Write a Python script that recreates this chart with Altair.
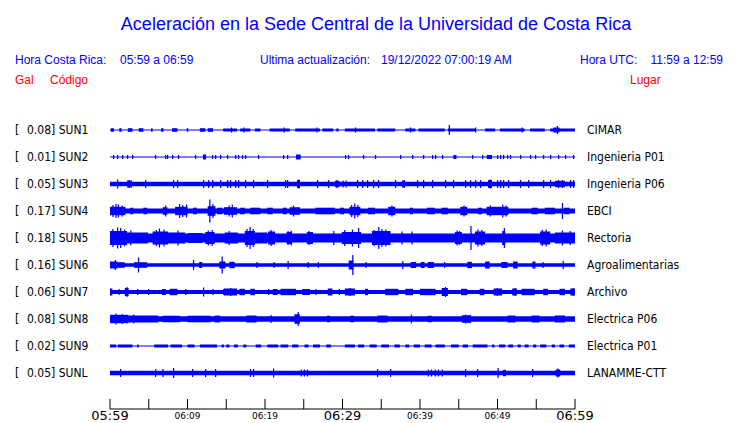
import altair as alt
import pandas as pd

# ---------------- data ----------------
CODES = ["SUN1", "SUN2", "SUN3", "SUN4", "SUN5", "SUN6", "SUN7", "SUN8", "SUN9", "SUNL"]
GAL = ["0.08", "0.01", "0.05", "0.17", "0.18", "0.16", "0.06", "0.08", "0.02", "0.05"]
PLACES = ["CIMAR", "Ingenieria P01", "Ingenieria P06", "EBCI", "Rectoria",
          "Agroalimentarias", "Archivo", "Electrica P06", "Electrica P01", "LANAMME-CTT"]
# half thickness of the quiet trace
BASE = [0.6, 0.6, 2.3, 2.4, 4.5, 1.8, 2.0, 2.8, 0.6, 2.3]

# bursts: (start minute, end minute, half amplitude)
B_SUN1 = [(0.1, 0.5, 1.8), (1.2, 1.5, 1.8), (2.3, 2.9, 1.8), (3.7, 4.3, 1.8), (5.3, 5.5, 1.8),
          (6.6, 6.9, 1.8), (8.0, 8.7, 1.8), (9.9, 10.1, 1.8), (11.6, 12.3, 1.8), (12.6, 13.3, 1.8),
          (14.6, 16.4, 1.5), (16.8, 18.1, 1.5), (18.7, 19.4, 1.5), (20.6, 23.2, 1.5), (23.9, 27.1, 1.5),
          (27.4, 28.8, 1.5), (29.2, 29.5, 1.5), (30.3, 34.2, 1.5), (34.5, 36.8, 1.5), (38.1, 39.4, 1.5),
          (39.8, 43.2, 1.5), (43.6, 47.1, 1.5), (48.4, 49.7, 1.5), (50.3, 53.5, 1.5), (54.2, 56.1, 1.5),
          (56.8, 60.0, 1.5), (57.2, 58.0, 2.5)]
B_SUN2 = [(12.0, 12.4, 2.5), (24.0, 24.6, 2.5), (44.3, 44.7, 2.0), (48.6, 49.3, 2.0)]
B_SUN3 = [(2.19, 2.84, 3.5), (24.13, 24.52, 4.0), (29.03, 29.6, 3.2), (37.68, 38.06, 3.5),
          (48.77, 49.29, 4.0), (57.42, 58.71, 3.2)]
B_SUN4 = [(0.0, 2.0, 4.2), (2.6, 3.0, 3.3), (4.3, 4.8, 3.3), (6.8, 7.4, 3.8), (8.4, 10.0, 4.2),
          (10.7, 11.2, 3.3), (12.6, 13.6, 4.8), (13.8, 14.5, 3.3), (14.7, 16.4, 3.8), (16.8, 17.4, 3.3),
          (18.1, 19.4, 3.3), (20.3, 21.0, 3.3), (22.3, 22.8, 3.3), (23.2, 24.5, 3.8), (26.5, 29.0, 3.3),
          (29.7, 30.2, 3.3), (30.9, 32.3, 4.2), (33.3, 34.2, 3.3), (35.9, 36.8, 4.2), (38.7, 39.1, 3.3),
          (40.9, 41.9, 3.3), (42.8, 43.6, 3.3), (45.2, 46.1, 4.2), (47.5, 48.0, 3.3), (48.6, 51.4, 4.2),
          (54.4, 55.2, 3.3), (56.1, 57.4, 3.3), (58.6, 59.3, 3.3)]
B_SUN5 = [(0.0, 2.2, 7.0), (2.2, 4.9, 5.5), (5.5, 7.5, 6.5), (7.5, 9.7, 5.5), (10.1, 11.9, 5.0),
          (12.3, 13.5, 6.0), (14.8, 16.5, 5.5), (17.4, 18.7, 7.0), (18.7, 20.3, 5.5), (20.4, 21.3, 6.5),
          (22.8, 23.5, 6.0), (25.4, 26.2, 6.0), (29.9, 32.4, 6.0), (33.8, 36.2, 7.0), (44.5, 45.4, 6.0),
          (47.1, 48.4, 6.5), (50.6, 51.0, 7.0), (55.5, 56.8, 6.5), (57.4, 60.0, 5.5)]
B_SUN6 = [(0.0, 1.0, 3.5), (1.0, 1.9, 2.8), (3.1, 4.8, 2.8), (11.5, 11.9, 3.0), (14.1, 14.9, 3.5),
          (15.4, 16.1, 3.2), (30.8, 31.4, 4.5), (38.8, 39.5, 3.0), (40.1, 40.6, 3.0), (41.0, 41.8, 3.0),
          (46.1, 46.7, 3.2), (48.4, 49.0, 3.5), (50.5, 51.3, 3.0), (52.0, 52.6, 3.5), (54.5, 54.9, 3.5)]
B_SUN7 = [(0.0, 0.3, 3.5), (1.9, 2.4, 4.0), (6.7, 7.2, 3.0), (7.7, 8.7, 3.2), (14.7, 16.4, 3.5),
          (16.7, 17.4, 3.2), (18.1, 18.7, 3.2), (21.0, 21.6, 3.0), (22.0, 24.0, 3.2), (24.8, 25.8, 3.0),
          (28.1, 28.7, 3.5), (30.3, 31.6, 3.5), (32.9, 33.3, 3.2), (35.5, 37.2, 3.2), (38.1, 39.1, 3.2),
          (40.0, 42.0, 3.2), (42.8, 43.6, 4.0), (45.3, 46.1, 3.2), (47.7, 48.3, 3.2), (49.5, 50.6, 3.5),
          (51.9, 52.5, 3.5), (53.1, 54.8, 3.2), (55.9, 56.5, 3.2), (58.0, 58.7, 3.2), (59.4, 60.0, 3.5)]
B_SUN8 = [(0.0, 2.4, 4.2), (2.4, 6.2, 3.5), (6.8, 9.0, 3.3), (10.0, 13.0, 3.3), (13.5, 14.2, 3.5),
          (17.6, 18.9, 3.5), (23.8, 24.5, 4.8), (28.0, 28.4, 3.3), (31.0, 31.5, 3.3), (34.5, 35.8, 3.5),
          (41.0, 41.5, 3.3), (45.4, 46.6, 3.8), (51.3, 52.3, 3.5), (54.4, 55.4, 3.5), (57.4, 58.7, 3.5)]
B_SUN9 = [(0.0, 0.8, 1.5), (1.0, 2.9, 1.5), (3.5, 3.7, 1.5), (5.7, 7.5, 1.5), (7.8, 9.3, 1.5),
          (10.0, 10.9, 1.5), (11.6, 13.8, 1.5), (14.4, 14.7, 1.5), (15.0, 15.4, 1.5), (16.0, 16.5, 1.5),
          (17.2, 17.6, 1.5), (18.8, 19.5, 1.5), (20.3, 21.7, 1.5), (22.0, 23.0, 1.5), (23.5, 24.3, 1.5),
          (25.1, 25.6, 1.5), (26.2, 27.1, 1.5), (27.9, 28.5, 1.5), (30.3, 31.6, 1.5), (32.0, 32.8, 1.5),
          (33.5, 34.4, 1.5), (35.0, 36.0, 1.5), (36.7, 37.4, 1.5), (38.1, 38.6, 1.5), (39.2, 40.0, 1.5),
          (40.6, 41.5, 1.5), (42.0, 43.2, 1.5), (44.0, 45.0, 1.5), (45.5, 46.2, 1.5), (46.8, 48.7, 1.5),
          (49.3, 49.6, 1.5), (50.2, 51.0, 1.5), (51.4, 52.0, 1.5), (52.6, 53.0, 1.5), (53.5, 54.0, 1.5),
          (54.6, 55.0, 1.5), (55.5, 56.3, 1.5), (57.0, 57.4, 1.5), (58.0, 58.6, 1.5), (59.2, 60.0, 1.5)]
B_SUNL = [(50.7, 51.1, 3.2), (57.5, 58.1, 3.5)]
BURSTS = [B_SUN1, B_SUN2, B_SUN3, B_SUN4, B_SUN5, B_SUN6, B_SUN7, B_SUN8, B_SUN9, B_SUNL]

# isolated short spikes: (minute, half amplitude)
S_SUN1 = [(15.6, 2.5), (17.2, 2.5), (22.4, 2.5), (26.6, 2.5), (31.6, 2.5), (38.7, 2.5),
          (43.7, 5.0), (47.1, 2.5), (53.1, 2.5), (57.65, 4.0)]
S_SUN2 = [(0.39, 2), (0.9, 2), (1.55, 2), (2.19, 2), (2.84, 2), (5.81, 2), (7.1, 2), (7.35, 2),
          (8.0, 2), (8.77, 2), (10.97, 2), (13.16, 2), (13.55, 2), (14.19, 2), (15.1, 2), (16.13, 2),
          (16.52, 2), (17.03, 2), (17.42, 2), (19.1, 2), (22.32, 2), (22.84, 2), (30.32, 2), (30.71, 2),
          (32.65, 2), (34.19, 2), (37.42, 2), (38.97, 2), (40.39, 2), (41.55, 2), (41.94, 2), (42.84, 2),
          (46.71, 2), (48.0, 2), (49.94, 2), (50.32, 2), (50.71, 2), (51.23, 2), (51.61, 2), (52.9, 2),
          (54.19, 2), (54.84, 2), (55.87, 2), (56.77, 2), (57.81, 2), (58.71, 2), (59.74, 2)]
S_SUN3 = [(0.9, 4.5), (2.4, 4), (4.52, 4), (8.13, 4), (8.65, 4), (12.0, 4), (12.65, 4), (13.16, 4),
          (14.19, 4), (15.1, 4), (15.48, 4), (16.13, 4), (16.52, 4), (17.42, 4), (18.45, 4), (20.26, 4),
          (22.58, 4), (22.84, 4), (24.3, 4.5), (26.71, 4), (28.13, 4), (29.2, 4), (30.0, 3.5), (30.4, 3.5),
          (31.87, 4), (32.52, 4), (33.16, 4), (33.94, 4), (34.58, 4), (36.77, 4), (37.9, 4), (39.61, 4),
          (40.39, 4), (41.55, 4), (43.23, 4), (44.26, 4), (45.81, 4), (46.45, 4), (47.1, 4), (47.74, 4),
          (49.0, 4.5), (49.94, 4), (50.32, 4), (50.71, 4), (51.35, 4), (52.9, 4), (53.94, 4), (55.87, 4),
          (56.77, 4), (57.8, 4), (58.3, 4), (59.35, 4), (59.74, 4)]
S_SUN4 = [(0.3, 6.0), (0.7, 7.0), (1.0, 6.5), (1.5, 5.5), (7.1, 5.5), (8.9, 7.0), (9.3, 6.0),
          (9.8, 6.5), (12.8, 11.5), (13.2, 7.0), (15.3, 5.5), (15.7, 6.5), (23.6, 5.5), (31.1, 6.0),
          (31.5, 7.5), (31.9, 6.0), (36.3, 5.5), (45.6, 5.5), (49.0, 5.5), (50.6, 6.5), (51.0, 5.5),
          (58.3, 8.0)]
S_SUN5 = [(0.3, 9.0), (0.9, 10.5), (1.3, 10.0), (1.8, 8.5), (2.6, 7.5), (5.9, 8.0), (6.3, 9.5),
          (6.9, 8.5), (8.7, 7.5), (12.6, 7.5), (13.1, 8.0), (15.3, 7.0), (17.6, 9.0), (18.0, 11.0),
          (18.4, 9.0), (20.7, 8.0), (22.9, 7.0), (23.3, 7.5), (25.6, 7.0), (28.8, 7.0), (30.2, 8.0),
          (31.2, 8.5), (32.0, 10.0), (34.0, 8.0), (34.6, 11.0), (35.0, 9.0), (35.5, 8.5), (37.6, 6.5),
          (38.9, 6.5), (44.7, 7.5), (45.0, 7.0), (46.5, 12.0), (47.4, 8.5), (47.9, 8.0), (50.8, 10.0),
          (55.7, 8.0), (56.2, 8.5), (58.3, 7.5), (59.3, 7.0)]
S_SUN6 = [(0.6, 5.0), (3.6, 7.5), (10.7, 5.0), (14.4, 8.5), (18.9, 3.0), (21.1, 3.0), (22.9, 4.0),
          (25.5, 3.0), (26.8, 3.0), (31.25, 10.0), (32.95, 3.0), (37.7, 4.0), (43.1, 3.0), (55.8, 3.0),
          (58.4, 4.0)]
S_SUN7 = [(1.1, 3.0), (2.1, 5.0), (3.5, 3.0), (4.9, 3.0), (9.7, 3.0), (12.0, 4.5), (13.2, 3.0),
          (14.6, 3.0), (15.5, 4.0), (20.4, 3.0), (26.5, 3.0), (29.5, 3.0), (30.9, 4.0), (43.2, 5.0),
          (49.9, 4.0), (52.2, 4.0), (59.7, 4.0)]
S_SUN8 = [(0.7, 5.5), (1.5, 5.0), (3.0, 4.5), (20.7, 4.0), (24.2, 7.0), (38.8, 4.5), (45.8, 4.5),
          (46.2, 4.0)]
S_SUNL = [(1.29, 4), (5.81, 4), (6.75, 4), (8.13, 5), (10.58, 4), (12.26, 4), (13.55, 4), (18.06, 4),
          (18.45, 4), (21.03, 4.5), (24.6, 3.5), (25.0, 3.5), (25.4, 3.5), (34.45, 4), (36.13, 4),
          (41.0, 3.5), (41.4, 3.5), (41.9, 3.5), (42.3, 3.5), (42.8, 3.5), (45.81, 4), (47.35, 4),
          (50.0, 5), (54.45, 4), (57.7, 4.5)]
SPIKES = [S_SUN1, S_SUN2, S_SUN3, S_SUN4, S_SUN5, S_SUN6, S_SUN7, S_SUN8, [], S_SUNL]
SPIKE_LEN = 0.16  # minutes

ROW_GAP = 27
TICK_MIN = [0, 5, 10, 15, 20, 25, 30, 35, 40, 45, 50, 55, 60]
LABEL_MIN = [0, 10, 20, 30, 40, 50, 60]
LABEL_TXT = ["05:59", "06:09", "06:19", "06:29", "06:39", "06:49", "06:59"]
LABEL_BIG = [True, False, False, True, False, False, True]

BLUE = "#0000ff"
RED = "#ff0000"
LABEL_FONT = "DejaVu Sans Condensed, DejaVu Sans"

# ---------------- tables ----------------
rows = []
for i in range(len(CODES)):
    c = i * ROW_GAP
    rows.append(dict(t0=0.0, t1=60.0, y0=c - BASE[i], y1=c + BASE[i]))
    for t0, t1, a in BURSTS[i]:
        rows.append(dict(t0=t0, t1=t1, y0=c - a, y1=c + a))
    for t, a in SPIKES[i]:
        rows.append(dict(t0=t, t1=t + SPIKE_LEN, y0=c - a, y1=c + a))
trace_df = pd.DataFrame(rows)

lab_df = pd.DataFrame({
    "row": [i * ROW_GAP for i in range(len(CODES))],
    "left": [f"{g}] {c}" for g, c in zip(GAL, CODES)],
    "place": PLACES,
})
tick_df = pd.DataFrame({"t": TICK_MIN})
axlab_df = pd.DataFrame({"t": LABEL_MIN, "txt": LABEL_TXT, "big": LABEL_BIG})

xs = alt.Scale(domain=[0, 60], range=[102, 567])
ys = alt.Scale(domain=[0, 243], range=[122, 365])

traces = alt.Chart(trace_df).mark_rect(color=BLUE, strokeWidth=0).encode(
    x=alt.X("t0:Q", scale=xs, axis=None), x2="t1:Q",
    y=alt.Y("y0:Q", scale=ys, axis=None), y2="y1:Q",
)

bracket = alt.Chart(lab_df).mark_text(align="left", baseline="middle", font=LABEL_FONT,
                                       fontSize=12, color="black").encode(
    x=alt.value(7), y=alt.Y("row:Q", scale=ys, axis=None), text=alt.value("["))
left_lab = alt.Chart(lab_df).mark_text(align="left", baseline="middle", font=LABEL_FONT,
                                        fontSize=12, color="black").encode(
    x=alt.value(19), y=alt.Y("row:Q", scale=ys, axis=None), text="left:N")
right_lab = alt.Chart(lab_df).mark_text(align="left", baseline="middle", font=LABEL_FONT,
                                         fontSize=12, color="black").encode(
    x=alt.value(579), y=alt.Y("row:Q", scale=ys, axis=None), text="place:N")

base_rule = alt.Chart(pd.DataFrame({"a": [0], "b": [60]})).mark_rule(color="black", strokeWidth=1).encode(
    x=alt.X("a:Q", scale=xs, axis=None), x2="b:Q", y=alt.value(401))
ticks = alt.Chart(tick_df).mark_rule(color="black", strokeWidth=1).encode(
    x=alt.X("t:Q", scale=xs, axis=None), y=alt.value(391), y2=alt.value(401))
big_lab = alt.Chart(axlab_df).transform_filter("datum.big").mark_text(
    align="center", baseline="middle", font="DejaVu Sans", fontSize=13, color="black").encode(
    x=alt.X("t:Q", scale=xs, axis=None), y=alt.value(407.5), text="txt:N")
small_lab = alt.Chart(axlab_df).transform_filter("!datum.big").mark_text(
    align="center", baseline="middle", font="DejaVu Sans", fontSize=9, color="black").encode(
    x=alt.X("t:Q", scale=xs, axis=None), y=alt.value(408), text="txt:N")


def txt(s, x, y, size=12, color=BLUE, align="left"):
    return alt.Chart(pd.DataFrame({"s": [s]})).mark_text(
        align=align, baseline="alphabetic", font="Liberation Sans", fontSize=size, color=color
    ).encode(x=alt.value(x), y=alt.value(y), text="s:N")


header = [
    txt("Aceleración en la Sede Central de la Universidad de Costa Rica", 368, 22, 18, align="center"),
    txt("Hora Costa Rica:", 7, 56),
    txt("05:59 a 06:59", 112, 56),
    txt("Ultima actualización:", 252, 56),
    txt("19/12/2022 07:00:19 AM", 373, 56),
    txt("Hora UTC:", 572, 56),
    txt("11:59 a 12:59", 715, 56, align="right"),
    txt("Gal", 7, 76, color=RED),
    txt("Código", 42, 76, color=RED),
    txt("Lugar", 622, 76, color=RED),
]

chart = alt.layer(traces, bracket, left_lab, right_lab, base_rule, ticks, big_lab, small_lab,
                  *header).properties(
    width=724, height=415, autosize=alt.AutoSizeParams(type="none"), padding=0,
).configure_view(strokeWidth=0)

chart.save("out.html", embed_options={"renderer": "svg", "actions": False})
